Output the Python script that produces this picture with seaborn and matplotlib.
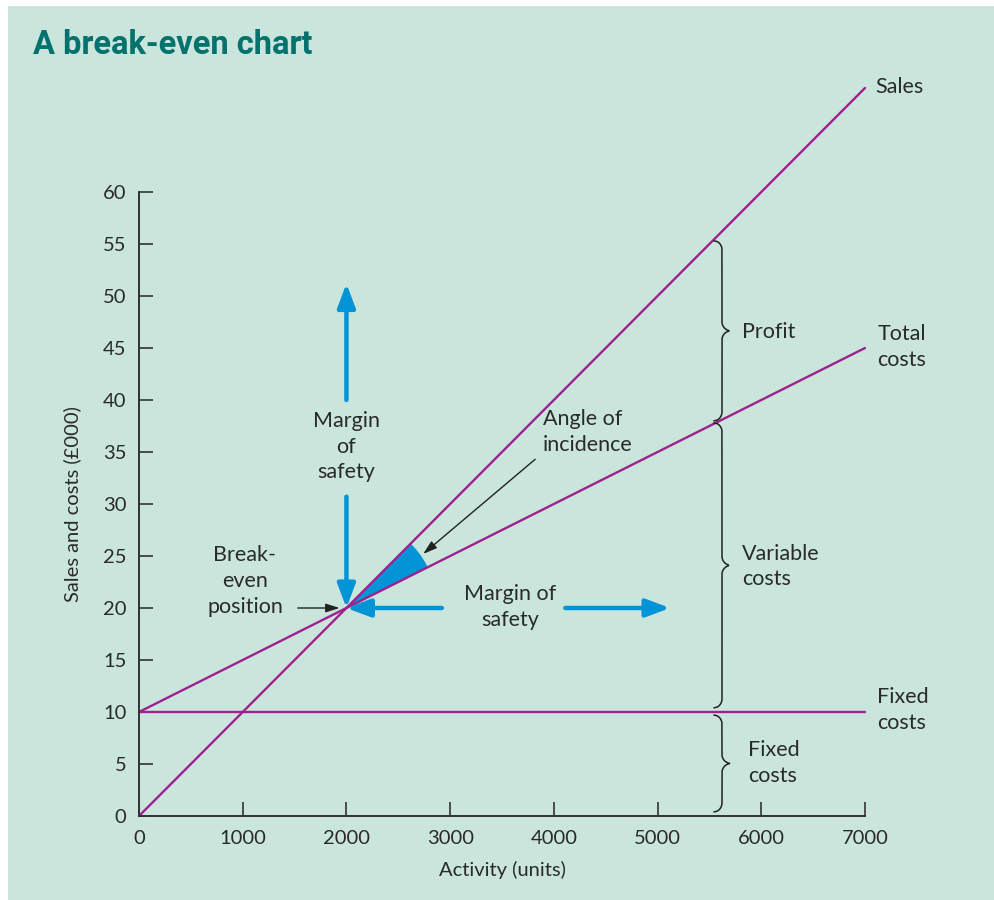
import numpy as np
import pandas as pd
import matplotlib
matplotlib.use("Agg")
import matplotlib.pyplot as plt
from matplotlib.patches import Rectangle, Polygon
import seaborn as sns

# Break-even inputs (sales and costs in £000, activity in units)
activity = [0, 7000]
sales = [0, 70]
total_costs = [10, 45]
fixed_costs = [10, 10]
x_ticks = [0, 1000, 2000, 3000, 4000, 5000, 6000, 7000]
y_ticks = [0, 5, 10, 15, 20, 25, 30, 35, 40, 45, 50, 55, 60]

df = pd.DataFrame({
    "activity": activity * 3,
    "value": sales + total_costs + fixed_costs,
    "line": ["Sales"] * 2 + ["Total costs"] * 2 + ["Fixed costs"] * 2,
})

# Break-even point derived from the lines
price = (sales[1] - sales[0]) / (activity[1] - activity[0])
var_rate = (total_costs[1] - total_costs[0]) / (activity[1] - activity[0])
be_x = fixed_costs[0] / (price - var_rate)
be_y = price * be_x

sns.set_theme(style="white")
plt.rcParams["font.family"] = ["Lato", "DejaVu Sans"]

BG = "#cae6dc"
PURPLE = "#a0208f"
BLUE = "#0093d6"
TXT = "#2a2a2a"
TEAL = "#00716d"

W, H = 995, 900
AX_L, AX_B, AX_W, AX_H = 139, 84, 726, 728
XMAX, YMAX = 7000, 70
sx = AX_W / XMAX   # pixels per unit of activity
sy = AX_H / YMAX   # pixels per £000

fig = plt.figure(figsize=(W / 100, H / 100), dpi=100, facecolor="white")
fig.patches.append(Rectangle((8 / W, 0), 1, 894 / H, transform=fig.transFigure,
                             facecolor=BG, edgecolor="none", zorder=-10))

ax = fig.add_axes([AX_L / W, AX_B / H, AX_W / W, AX_H / H])
ax.set_facecolor("none")

sns.lineplot(data=df, x="activity", y="value", units="line", estimator=None,
             color=PURPLE, lw=1.7, ax=ax, legend=False, clip_on=False)

ax.set_xlim(0, XMAX)
ax.set_ylim(0, YMAX)
for s in ["top", "right"]:
    ax.spines[s].set_visible(False)
ax.spines["left"].set_bounds(0, 60)
for s in ["left", "bottom"]:
    ax.spines[s].set_color("#333333")
    ax.spines[s].set_linewidth(1.4)
ax.set_xticks(x_ticks)
ax.set_yticks(y_ticks)
ax.tick_params(axis="both", direction="in", length=10, width=1.2, color="#333333",
               labelsize=14.5, labelcolor=TXT, bottom=True, left=True)
ax.tick_params(axis="x", pad=10)
ax.tick_params(axis="y", pad=9)
ax.set_xlabel("Activity (units)", fontsize=14.5, color=TXT, labelpad=10)
ax.set_ylabel("Sales and costs (£000)", fontsize=14.5, color=TXT)
ax.yaxis.set_label_coords(-0.079, (816 - 504) / AX_H)

# Angle of incidence wedge, equal radius on screen
a_s = np.arctan2(price * sy, sx)
a_t = np.arctan2(var_rate * sy, sx)
r = 91
angs = np.linspace(a_t, a_s, 40)
wx = np.concatenate([[be_x], be_x + r * np.cos(angs) / sx])
wy = np.concatenate([[be_y], be_y + r * np.sin(angs) / sy])
ax.add_patch(Polygon(np.column_stack([wx, wy]), closed=True, facecolor=BLUE,
                     edgecolor="none", zorder=1))

# Margin of safety arrows
akw = dict(arrowstyle="-|>,head_length=1.2,head_width=0.45", color=BLUE, lw=3.2,
           shrinkA=0, shrinkB=0)
ax.annotate("", xy=(be_x, 51.2), xytext=(be_x, 40.0), arrowprops=akw, annotation_clip=False)
ax.annotate("", xy=(be_x, be_y), xytext=(be_x, 30.7), arrowprops=akw)
ax.annotate("", xy=(be_x, be_y), xytext=(2920, be_y), arrowprops=akw)
ax.annotate("", xy=(5120, be_y), xytext=(4110, be_y), arrowprops=akw)

tkw = dict(fontsize=15.5, color=TXT, linespacing=1.35)
ax.text(be_x, 35.5, "Margin\nof\nsafety", ha="center", va="center", **tkw)
ax.text(3578, 20.1, "Margin of\nsafety", ha="center", va="center", **tkw)
ax.text(1022, 22.6, "Break-\neven\nposition", ha="center", va="center", **tkw)
ax.text(3896, 36.9, "Angle of\nincidence", ha="left", va="center", **tkw)

bkw = dict(arrowstyle="-|>,head_length=0.7,head_width=0.22", color="#222222", lw=1.0,
           shrinkA=0, shrinkB=0)
ax.annotate("", xy=(1935, be_y), xytext=(1530, be_y), arrowprops=bkw)
ax.annotate("", xy=(2740, 25.2), xytext=(3820, 34.3), arrowprops=bkw)


def brace(ax, x, y0, y1, k=9.0, e_px=9.0, color="#222222"):
    """Curly brace from y0 to y1 at activity x, pointing right; sizes in pixels."""
    h = (y1 - y0) * sy
    yp = np.linspace(0, h, 400)
    xp = np.zeros_like(yp)
    lo = yp < e_px
    xp[lo] = -k * 0.9 * (1 - np.sqrt(np.clip(1 - ((e_px - yp[lo]) / e_px) ** 2, 0, 1)))
    hi = yp > h - e_px
    xp[hi] = -k * 0.9 * (1 - np.sqrt(np.clip(1 - ((yp[hi] - (h - e_px)) / e_px) ** 2, 0, 1)))
    dm = np.abs(yp - h / 2)
    mid = dm < e_px
    xp[mid] = k * (1 - np.sqrt(np.clip(1 - (1 - dm[mid] / e_px) ** 2, 0, 1)))
    ax.plot(x + xp / sx, y0 + yp / sy, color=color, lw=1.1, clip_on=False, zorder=3)


bx = (722 - AX_L) / sx
brace(ax, bx, 38.0, 55.3)
brace(ax, bx, 10.4, 37.8)
brace(ax, bx, 0.4, 9.7)

ax.text(5815, 46.5, "Profit", ha="left", va="center", **tkw)
ax.text(5815, 24.0, "Variable\ncosts", ha="left", va="center", **tkw)
ax.text(5873, 5.1, "Fixed\ncosts", ha="left", va="center", **tkw)

ax.text(7097, 70.1, "Sales", ha="left", va="center", clip_on=False, **tkw)
ax.text(7117, 45.1, "Total\ncosts", ha="left", va="center", clip_on=False, **tkw)
ax.text(7117, 10.2, "Fixed\ncosts", ha="left", va="center", clip_on=False, **tkw)

fig.text(33 / W, 1 - 45 / H, "A break-even chart", fontsize=23.5, fontweight="bold",
         color=TEAL, ha="left", va="center", family=["Roboto", "DejaVu Sans"])

fig.savefig("out.png", dpi=100, facecolor=fig.get_facecolor())
